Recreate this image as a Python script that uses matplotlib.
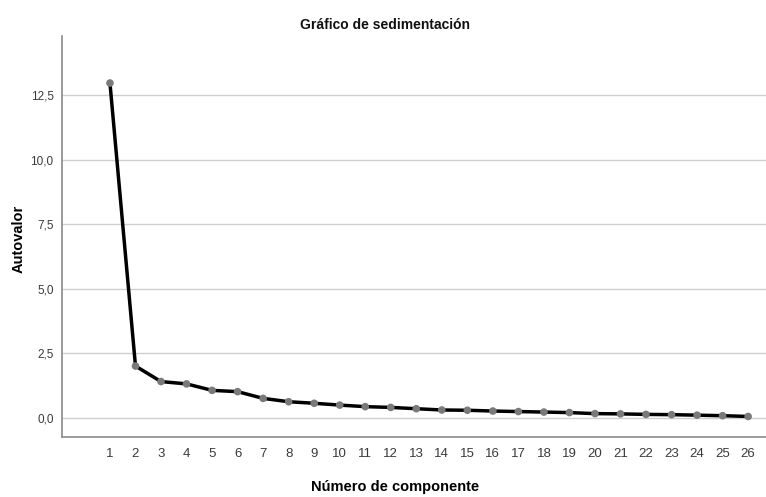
import matplotlib
matplotlib.use("Agg")
import matplotlib.pyplot as plt
from matplotlib.ticker import FuncFormatter

plt.rcParams['font.family'] = ['Liberation Sans', 'DejaVu Sans']

componentes = list(range(1, 27))
autovalores = [12.96, 2.01, 1.41, 1.32, 1.07, 1.02, 0.76, 0.63, 0.57, 0.50, 0.44, 0.41,
               0.36, 0.31, 0.30, 0.27, 0.25, 0.23, 0.21, 0.17, 0.16, 0.14, 0.13, 0.11,
               0.09, 0.06]
yticks = [0.0, 2.5, 5.0, 7.5, 10.0, 12.5]

fig = plt.figure(figsize=(7.66, 4.97), dpi=100)
ax = fig.add_axes([0.0809, 0.1207, 0.9191, 0.8069])

ax.plot(componentes, autovalores, color='black', lw=2.5, zorder=3)
ax.scatter(componentes, autovalores, s=30, color='#7a7a7a', zorder=4, edgecolors='none')

ax.set_xlim(-0.88, 26.7)
ax.set_ylim(-0.735, 14.78)
ax.set_xticks(componentes)
ax.set_yticks(yticks)
ax.yaxis.set_major_formatter(FuncFormatter(lambda v, p: f"{v:.1f}".replace('.', ',')))
ax.tick_params(axis='both', length=0, labelsize=8.5, colors='#3a3a3a')
ax.tick_params(axis='x', pad=8, labelsize=9.5)
ax.tick_params(axis='y', pad=6)
ax.grid(axis='y', color='#cfcfcf', lw=1)
ax.set_axisbelow(True)
for s in ['top', 'right']:
    ax.spines[s].set_visible(False)
for s in ['left', 'bottom']:
    ax.spines[s].set_color('#8a8a8a')
    ax.spines[s].set_linewidth(1.2)

fig.text(0.503, 0.95, 'Gráfico de sedimentación', ha='center', va='center', fontsize=10, fontweight='bold', color='#111111')
fig.text(0.516, 0.02, 'Número de componente', ha='center', va='center', fontsize=10.5, fontweight='bold')
fig.text(0.024, 0.52, 'Autovalor', ha='center', va='center', fontsize=10.5, fontweight='bold', rotation=90)

fig.savefig('out.png', dpi=100)
